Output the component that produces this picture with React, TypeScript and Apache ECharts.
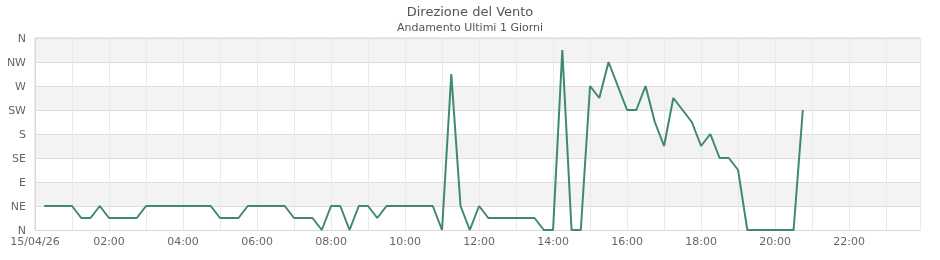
import React, { useEffect, useRef } from "react";
import * as echarts from "echarts";

const titleText = "Direzione del Vento";
const subtitleText = "Andamento Ultimi 1 Giorni";
const dateLabel = "15/04/26";
const directionLabels = ["N", "NE", "E", "SE", "S", "SW", "W", "NW", "N"];

const times = [
  "00:15", "00:30", "00:45", "01:00", "01:15", "01:30", "01:45", "02:00", "02:15", "02:30", "02:45",
  "03:00", "03:15", "03:30", "03:45", "04:00", "04:15", "04:30", "04:45", "05:00", "05:15", "05:30",
  "05:45", "06:00", "06:15", "06:30", "06:45", "07:00", "07:15", "07:30", "07:45", "08:00", "08:15",
  "08:30", "08:45", "09:00", "09:15", "09:30", "09:45", "10:00", "10:15", "10:30", "10:45", "11:00",
  "11:15", "11:30", "11:45", "12:00", "12:15", "12:30", "12:45", "13:00", "13:15", "13:30", "13:45",
  "14:00", "14:15", "14:30", "14:45", "15:00", "15:15", "15:30", "15:45", "16:00", "16:15", "16:30",
  "16:45", "17:00", "17:15", "17:30", "17:45", "18:00", "18:15", "18:30", "18:45", "19:00", "19:15",
  "19:30", "19:45", "20:00", "20:15", "20:30", "20:45",
];

const directionDeg = [
  45, 45, 45, 45, 22.5, 22.5, 45, 22.5, 22.5, 22.5, 22.5,
  45, 45, 45, 45, 45, 45, 45, 45, 22.5, 22.5, 22.5,
  45, 45, 45, 45, 45, 22.5, 22.5, 22.5, 0, 45, 45,
  0, 45, 45, 22.5, 45, 45, 45, 45, 45, 45, 0,
  292.5, 45, 0, 45, 22.5, 22.5, 22.5, 22.5, 22.5, 22.5, 0,
  0, 337.5, 0, 0, 270, 247.5, 315, 270, 225, 225, 270,
  202.5, 157.5, 247.5, 225, 202.5, 157.5, 180, 135, 135, 112.5, 0,
  0, 0, 0, 0, 0, 225,
];

const toHours = (s: string) => {
  const [h, m] = s.split(":").map(Number);
  return h + m / 60;
};

export default function App() {
  const ref = useRef<HTMLDivElement>(null);
  useEffect(() => {
    if (!ref.current) return;
    const chart = echarts.init(ref.current, undefined, { renderer: "svg" });
    const font = "DejaVu Sans";
    chart.setOption({
      animation: false,
      title: {
        text: titleText,
        subtext: subtitleText,
        left: "center",
        top: 0,
        itemGap: 4,
        textStyle: { fontSize: 13, fontWeight: "normal", color: "#555", fontFamily: font },
        subtextStyle: { fontSize: 11, color: "#555", fontFamily: font },
      },
      grid: {
        left: 35,
        right: 20,
        top: 38,
        bottom: 30,
        show: true,
        borderColor: "#d8d8d8",
        borderWidth: 1,
      },
      xAxis: {
        type: "value",
        min: 0,
        max: 23 + 55 / 60,
        interval: 2,
        axisLine: { show: true, lineStyle: { color: "#d8d8d8" } },
        axisTick: { show: false },
        minorTick: { show: false, splitNumber: 2 },
        splitLine: { show: true, lineStyle: { color: "#e8e8f8", width: 1 } },
        minorSplitLine: { show: true, lineStyle: { color: "#e8e8f8", width: 1 } },
        axisLabel: {
          color: "#666",
          fontSize: 11,
          fontFamily: font,
          margin: 6,
          showMaxLabel: false,
          formatter: (v: number) => {
            if (Math.abs(v - Math.round(v)) > 1e-6 || Math.round(v) % 2 !== 0) return "";
            if (v === 0) return dateLabel;
            const h = Math.round(v);
            return (h < 10 ? "0" : "") + h + ":00";
          },
        },
      },
      yAxis: {
        type: "value",
        min: 0,
        max: 360,
        interval: 45,
        axisLine: { show: true, lineStyle: { color: "#d8d8d8" } },
        axisTick: { show: false },
        splitLine: { show: true, lineStyle: { color: "#dddddd" } },
        splitArea: { show: true, areaStyle: { color: ["#ffffff", "#f3f3f3"] } },
        axisLabel: {
          color: "#666",
          fontSize: 11,
          fontFamily: font,
          margin: 9,
          formatter: (v: number) => directionLabels[Math.round(v / 45)] ?? "",
        },
      },
      series: [
        {
          type: "line",
          data: times.map((t, i) => [toHours(t), directionDeg[i]]),
          showSymbol: false,
          lineStyle: { color: "#3f8a6f", width: 2 },
          itemStyle: { color: "#3f8a6f" },
        },
      ],
    });
    return () => chart.dispose();
  }, []);
  return <div ref={ref} style={{ position: "fixed", left: 0, top: 0, width: 940, height: 260 }} />;
}
